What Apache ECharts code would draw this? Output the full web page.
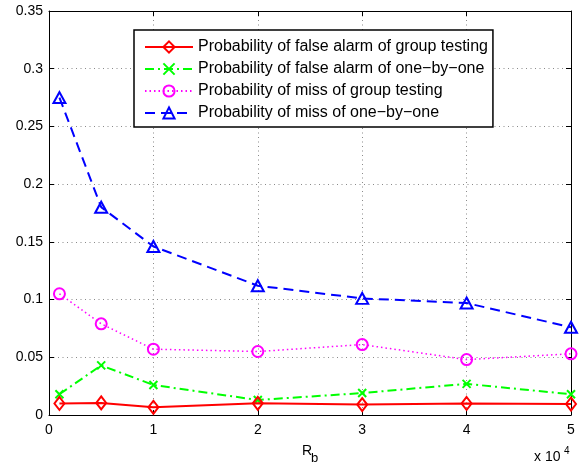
<!DOCTYPE html>
<html>
<head>
<meta charset="utf-8">
<script src="https://cdn.jsdelivr.net/npm/echarts@6/dist/echarts.min.js"></script>
<style>
  html, body { margin: 0; padding: 0; background: #fff; }
  #chart { width: 581px; height: 470px; }
</style>
</head>
<body>
<div id="chart"></div>
<script>
// Bit rate R_b values at which the probabilities were evaluated
const rb = [1000, 5000, 10000, 20000, 30000, 40000, 50000];

// Probability values per scheme
const faGroup   = [0.0100, 0.0105, 0.0067, 0.0101, 0.0090, 0.0100, 0.0095];
const faOneByOne = [0.018, 0.043, 0.026, 0.013, 0.019, 0.027, 0.018];
const missGroup  = [0.105, 0.079, 0.057, 0.055, 0.061, 0.048, 0.053];
const missOneByOne = [0.275, 0.180, 0.146, 0.112, 0.101, 0.097, 0.076];

const seriesNames = [
  'Probability of false alarm of group testing',
  'Probability of false alarm of one\u2212by\u2212one',
  'Probability of miss of group testing',
  'Probability of miss of one\u2212by\u2212one'
];

// Axis ranges and steps
const xMin = 0, xMax = 50000, xStep = 10000, xScale = 10000;
const yMin = 0, yMax = 0.35, yStep = 0.05;

const FONT = 'Liberation Sans, Arial, Helvetica, sans-serif';

function pairs(vals) {
  return rb.map((x, i) => [x, vals[i]]);
}

const tickStyle = { show: true, inside: true, length: 5, lineStyle: { color: '#000', width: 1 } };
const lineAxis = { show: true, onZero: false, lineStyle: { color: '#000', width: 1 } };
const gridLine = { show: true, lineStyle: { color: '#8a8a8a', width: 1, type: [1, 3.5] } };

const chart = echarts.init(document.getElementById('chart'), null, { renderer: 'canvas' });

chart.setOption({
  animation: false,
  backgroundColor: '#fff',
  textStyle: { fontFamily: FONT },
  grid: { left: 49, right: 10, top: 11, bottom: 55, containLabel: false },
  legend: {
    orient: 'vertical',
    left: 134,
    top: 30,
    itemWidth: 48,
    itemHeight: 14,
    itemGap: 6,
    padding: [9, 5, 6, 10],
    borderColor: '#000',
    borderWidth: 1.5,
    borderRadius: 0,
    backgroundColor: '#fff',
    textStyle: { fontSize: 16, color: '#000', fontFamily: FONT },
    data: seriesNames
  },
  xAxis: [
    {
      type: 'value', position: 'bottom',
      min: xMin, max: xMax, interval: xStep,
      axisLine: lineAxis, axisTick: tickStyle,
      axisLabel: {
        margin: 8, color: '#000', fontSize: 14, fontFamily: FONT,
        formatter: v => String(v / xScale)
      },
      splitLine: gridLine
    },
    {
      type: 'value', position: 'top',
      min: xMin, max: xMax, interval: xStep,
      axisLine: lineAxis, axisTick: tickStyle,
      axisLabel: { show: false }, splitLine: { show: false }
    }
  ],
  yAxis: [
    {
      type: 'value', position: 'left',
      min: yMin, max: yMax, interval: yStep,
      axisLine: lineAxis, axisTick: tickStyle,
      axisLabel: {
        margin: 6, color: '#000', fontSize: 14, fontFamily: FONT,
        formatter: v => String(Math.round(v * 100) / 100)
      },
      splitLine: gridLine
    },
    {
      type: 'value', position: 'right',
      min: yMin, max: yMax, interval: yStep,
      axisLine: lineAxis, axisTick: tickStyle,
      axisLabel: { show: false }, splitLine: { show: false }
    }
  ],
  series: [
    {
      name: seriesNames[0], type: 'line', data: pairs(faGroup),
      symbol: 'diamond', symbolSize: [10, 13],
      lineStyle: { color: '#ff0000', width: 2, type: 'solid' },
      itemStyle: { color: 'rgba(255,255,255,0)', borderColor: '#ff0000', borderWidth: 2 },
      z: 5
    },
    {
      name: seriesNames[1], type: 'line', data: pairs(faOneByOne),
      symbol: 'path://M0,0L10,10M10,0L0,10', symbolSize: 8,
      lineStyle: { color: '#00ff00', width: 2, type: [9, 4, 2, 4] },
      itemStyle: { color: 'rgba(255,255,255,0)', borderColor: '#00ff00', borderWidth: 2 },
      z: 4
    },
    {
      name: seriesNames[2], type: 'line', data: pairs(missGroup),
      symbol: 'circle', symbolSize: 11,
      lineStyle: { color: '#ff00ff', width: 1.5, type: [1.5, 3] },
      itemStyle: { color: 'rgba(255,255,255,0)', borderColor: '#ff00ff', borderWidth: 2 },
      z: 3
    },
    {
      name: seriesNames[3], type: 'line', data: pairs(missOneByOne),
      symbol: 'triangle', symbolSize: [12, 11],
      lineStyle: { color: '#0000ff', width: 2, type: [10, 6] },
      itemStyle: { color: 'rgba(255,255,255,0)', borderColor: '#0000ff', borderWidth: 2 },
      z: 2
    }
  ],
  graphic: [
    { type: 'text', left: 302, top: 444, style: { text: 'R', font: '14px ' + FONT, fill: '#000' } },
    { type: 'text', left: 311, top: 452, style: { text: 'b', font: '13px ' + FONT, fill: '#000' } },
    { type: 'text', left: 534, top: 450, style: { text: 'x 10', font: '14px ' + FONT, fill: '#000' } },
    { type: 'text', left: 564, top: 446, style: { text: '4', font: '10px ' + FONT, fill: '#000' } }
  ]
});
</script>
</body>
</html>
